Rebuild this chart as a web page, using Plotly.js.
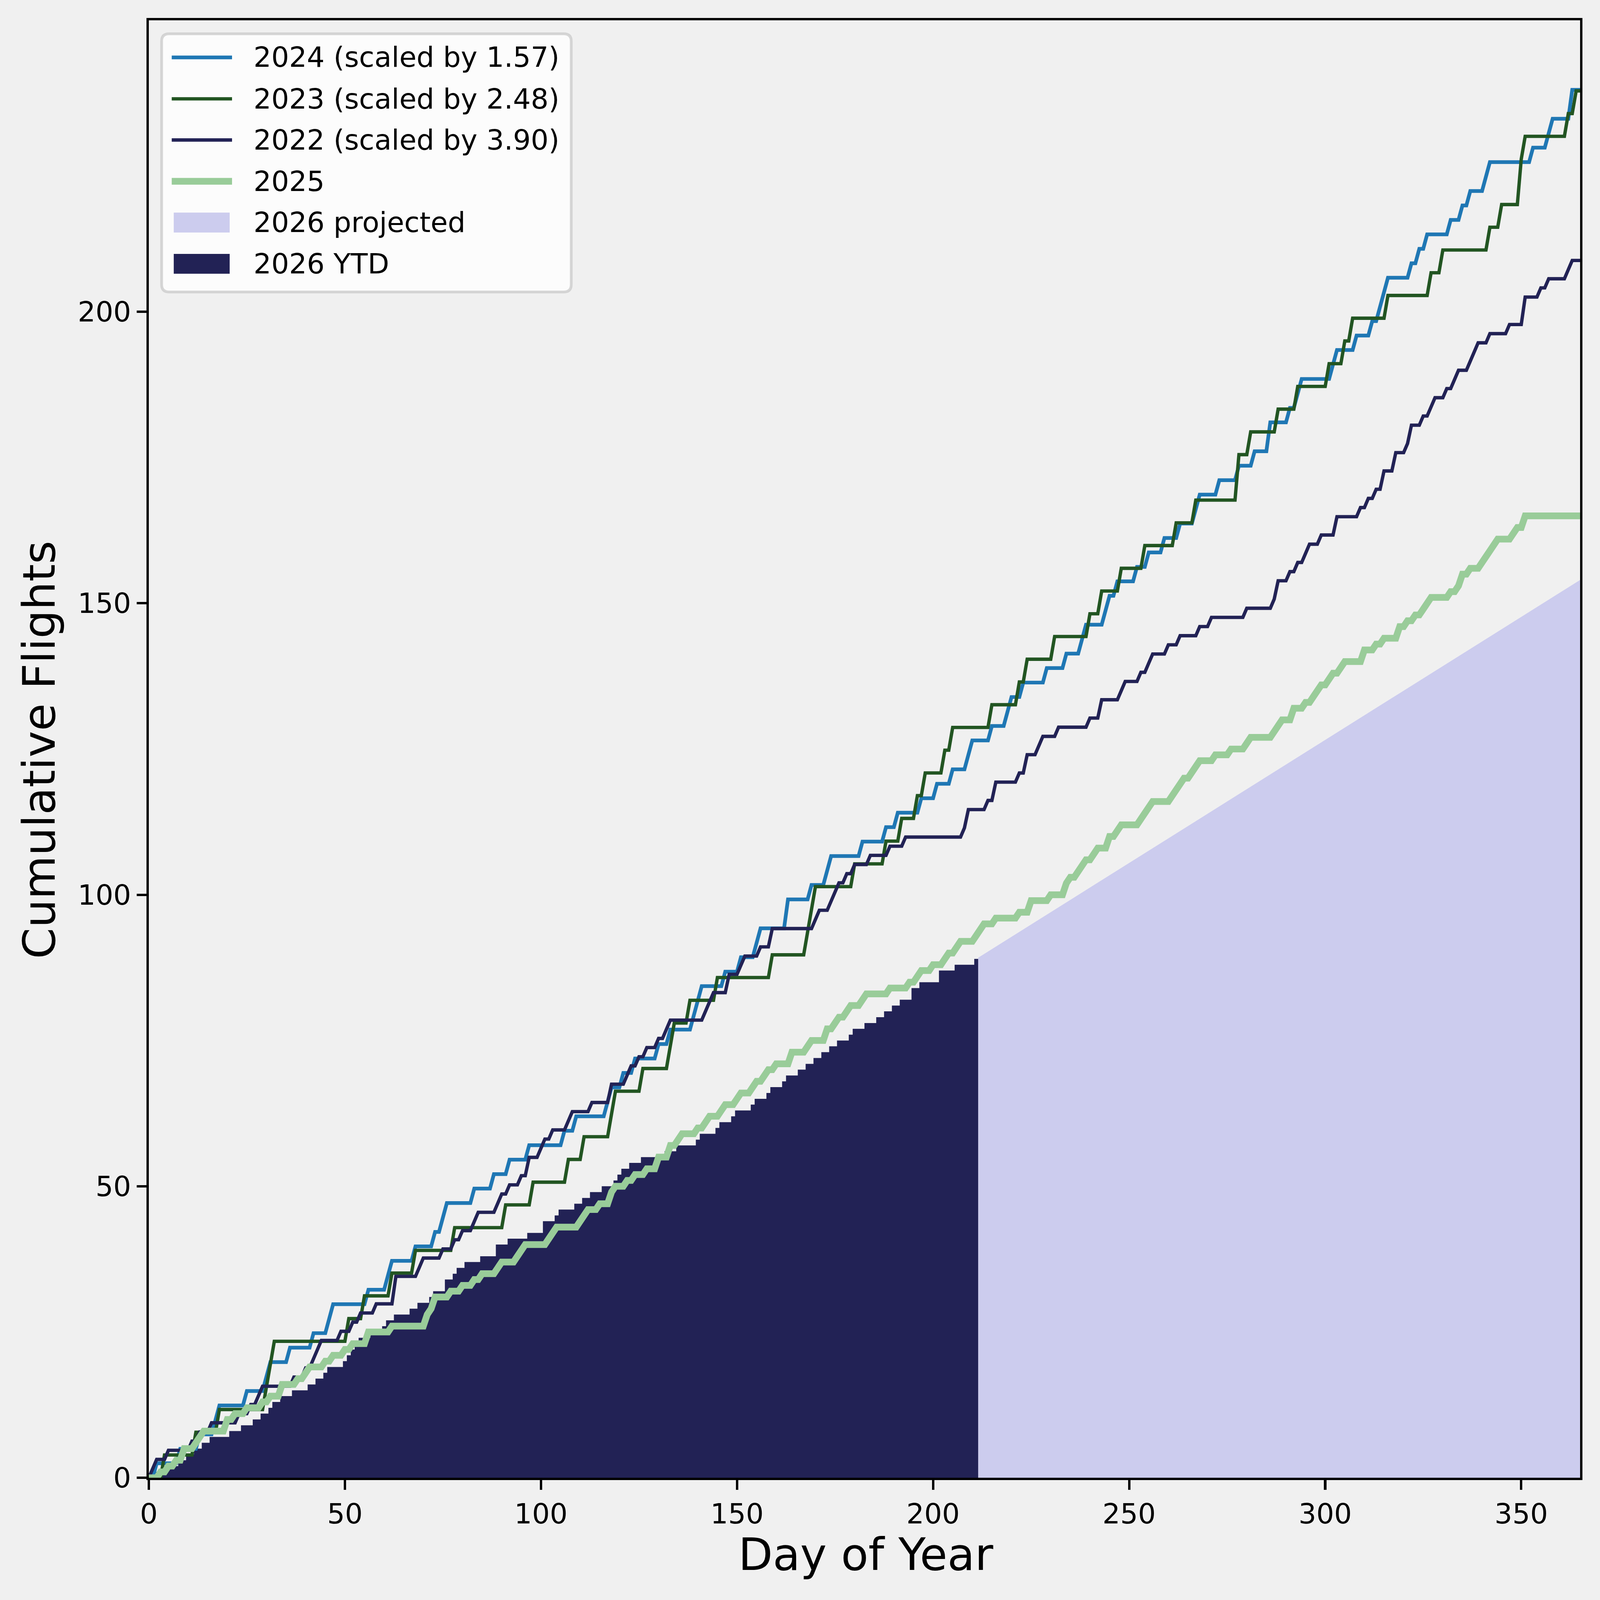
<!DOCTYPE html>
<html>
<head>
<meta charset="utf-8">
<script src="https://cdn.plot.ly/plotly-3.0.1.min.js"></script>
<style>
  html, body { margin: 0; padding: 0; background: #f0f0f0; overflow: hidden; }
</style>
</head>
<body>
<div id="chart"></div>
<script>
'use strict';

// A day is listed twice (or three times) when the line jumps by that many steps.
const days2024 = [2, 8, 13, 17, 18, 25, 30, 31, 36, 42, 46, 47, 56, 61, 62, 68, 73, 75, 76, 83,
    88, 92, 97, 106, 109, 117, 118, 121, 124, 130, 133, 139, 140, 141, 147, 151, 155, 156, 163, 163,
    169, 173, 174, 182, 188, 191, 197, 201, 205, 209, 210, 215, 219, 220, 223, 229, 234, 238, 239, 244,
    245, 247, 252, 255, 259, 263, 267, 268, 273, 278, 282, 286, 286, 291, 293, 294, 302, 303, 308, 312,
    314, 315, 316, 322, 324, 326, 332, 335, 337, 341, 342, 353, 357, 358, 363, 363];

const days2023 = [4, 12, 18, 30, 31, 32, 51, 55, 62, 68, 78, 91, 98, 107, 111, 118, 119, 126, 133, 134,
    138, 145, 159, 168, 169, 170, 180, 188, 192, 196, 198, 203, 205, 215, 222, 224, 231, 240, 243, 248,
    254, 262, 267, 278, 278, 281, 288, 293, 301, 305, 307, 316, 327, 330, 342, 345, 350, 350, 351, 362,
    364];

const days2022 = [1, 2, 5, 11, 13, 16, 23, 26, 28, 29, 37, 40, 42, 43, 44, 49, 52, 54, 58, 63,
    63, 63, 69, 70, 75, 78, 80, 83, 84, 89, 90, 92, 95, 97, 97, 100, 101, 103, 107, 108,
    113, 118, 118, 122, 123, 125, 127, 130, 132, 133, 142, 143, 144, 148, 148, 151, 152, 156, 159, 159,
    170, 171, 174, 175, 176, 178, 180, 184, 189, 193, 208, 209, 209, 214, 216, 216, 222, 224, 224, 227,
    228, 232, 240, 243, 243, 248, 249, 253, 255, 256, 260, 263, 268, 271, 280, 287, 288, 288, 291, 293,
    295, 296, 299, 303, 303, 309, 311, 313, 315, 315, 318, 318, 321, 322, 322, 325, 327, 328, 331, 333,
    334, 337, 338, 339, 342, 347, 351, 351, 351, 355, 357, 362, 363];

const days2025 = [3, 5, 7, 9, 9, 12, 13, 14, 20, 20, 22, 25, 29, 31, 34, 34, 38, 40, 41, 45,
    47, 50, 52, 56, 56, 62, 71, 71, 72, 73, 73, 77, 80, 83, 85, 89, 90, 94, 95, 96,
    102, 103, 104, 110, 111, 112, 115, 118, 118, 119, 122, 124, 127, 130, 130, 133, 133, 135, 136, 140,
    142, 143, 146, 147, 150, 151, 154, 155, 157, 158, 160, 164, 164, 168, 169, 173, 173, 175, 176, 178,
    179, 182, 183, 189, 194, 196, 197, 200, 203, 204, 206, 207, 211, 212, 213, 216, 222, 225, 225, 230,
    234, 234, 235, 237, 238, 239, 241, 242, 245, 245, 247, 248, 253, 254, 255, 256, 261, 262, 263, 264,
    266, 267, 268, 272, 276, 280, 281, 287, 288, 289, 292, 292, 295, 297, 298, 299, 301, 302, 304, 305,
    310, 310, 313, 315, 319, 319, 321, 323, 325, 326, 327, 332, 334, 335, 335, 337, 340, 341, 342, 343,
    344, 348, 349, 351, 351];

// 2026 year to date (bars, one per day)
const days2026 = [2, 5, 8, 10, 12, 14, 16, 21, 24, 27, 29, 31, 32, 34, 37, 41, 43, 45, 46, 50,
    51, 52, 53, 54, 57, 60, 61, 63, 67, 69, 72, 73, 76, 76, 78, 79, 81, 85, 89, 89,
    92, 97, 101, 101, 104, 105, 109, 111, 113, 116, 119, 120, 121, 123, 126, 132, 135, 140, 141, 145,
    146, 149, 150, 154, 155, 158, 159, 162, 163, 166, 168, 170, 172, 174, 176, 179, 180, 183, 186, 188,
    190, 192, 195, 195, 197, 202, 202, 206, 211];
const lastDay2026 = 211;

// height of one step as it is drawn for each line
const step2024 = 2.48;
const step2023 = 3.90;
const step2022 = 1.57;
const step2025 = 1;

// 2026 projection, start and end of its top edge
const projectedDays = [211.5, 365];
const projectedValues = [89.2, 154.0];

const dayTicks = [0, 50, 100, 150, 200, 250, 300, 350];
const flightTicks = [0, 50, 100, 150, 200];

const labels = ['2024 (scaled by 1.57)', '2023 (scaled by 2.48)', '2022 (scaled by 3.90)',
    '2025', '2026 projected', '2026 YTD'];

const colors = {
    c2024: '#1f77b4',
    c2023: '#225522',
    c2022: '#222255',
    c2025: '#99cc99',
    projected: '#ccccee',
    ytd: '#222255'
};

const FONT = 'DejaVu Sans';

// the reference is 4750 x 4747; everything below is laid out in those pixels
// and scaled to whatever window we really get
const W0 = 4750, H0 = 4747;
const W = window.innerWidth || W0;
const H = window.innerHeight || H0;
const sx = W / W0, sy = H / H0;
const s = Math.min(sx, sy);

function cumulative(days, step, lastDay) {
    const x = [];
    const y = [];
    for (let d = 0; d <= lastDay; d++) {
        let n = 0;
        for (const f of days) {
            if (f <= d) n++;
        }
        x.push(d);
        y.push(n * step);
    }
    return {x: x, y: y};
}

// bar outline of the year to date, as steps on the bar edges
function barSteps(days, lastDay) {
    const x = [];
    const y = [];
    for (let d = 1; d <= lastDay; d++) {
        let n = 0;
        for (const f of days) {
            if (f <= d) n++;
        }
        x.push(d - 0.5);
        y.push(n);
    }
    x.push(lastDay + 0.5);
    y.push(y[y.length - 1]);
    return {x: x, y: y};
}

const line2024 = cumulative(days2024, step2024, 365);
const line2023 = cumulative(days2023, step2023, 365);
const line2022 = cumulative(days2022, step2022, 365);
const line2025 = cumulative(days2025, step2025, 365);
const bars2026 = barSteps(days2026, lastDay2026);

const widths = {c2024: 11, c2023: 10, c2022: 10, c2025: 20};

const traces = [
    {
        x: projectedDays, y: projectedValues, type: 'scatter', mode: 'lines',
        fill: 'tozeroy', fillcolor: colors.projected, line: {width: 0, color: colors.projected}
    },
    {
        x: bars2026.x, y: bars2026.y, type: 'scatter', mode: 'lines',
        fill: 'tozeroy', fillcolor: colors.ytd, line: {width: 0, shape: 'hv', color: colors.ytd}
    },
    {x: line2024.x, y: line2024.y, type: 'scatter', mode: 'lines', line: {color: colors.c2024, width: widths.c2024 * s}},
    {x: line2023.x, y: line2023.y, type: 'scatter', mode: 'lines', line: {color: colors.c2023, width: widths.c2023 * s}},
    {x: line2022.x, y: line2022.y, type: 'scatter', mode: 'lines', line: {color: colors.c2022, width: widths.c2022 * s}},
    {x: line2025.x, y: line2025.y, type: 'scatter', mode: 'lines', line: {color: colors.c2025, width: widths.c2025 * s}}
];

// pixel position in the reference -> paper coordinates of the plot area
const M = {l: 442, r: 59, t: 60, b: 363};
const plotW = W0 - M.l - M.r;
const plotH = H0 - M.t - M.b;
function px(X) { return (X - M.l) / plotW; }
function py(Y) { return (H0 - M.b - Y) / plotH; }

// legend, drawn by hand so the handles get matplotlib's length
const box = {x1: 480, x2: 1696, y1: 100, y2: 866, r: 22};
const boxPath = [
    'M', px(box.x1 + box.r), py(box.y1),
    'L', px(box.x2 - box.r), py(box.y1),
    'Q', px(box.x2), py(box.y1), px(box.x2), py(box.y1 + box.r),
    'L', px(box.x2), py(box.y2 - box.r),
    'Q', px(box.x2), py(box.y2), px(box.x2 - box.r), py(box.y2),
    'L', px(box.x1 + box.r), py(box.y2),
    'Q', px(box.x1), py(box.y2), px(box.x1), py(box.y2 - box.r),
    'L', px(box.x1), py(box.y1 + box.r),
    'Q', px(box.x1), py(box.y1), px(box.x1 + box.r), py(box.y1),
    'Z'
].join(' ');

const rowY = [170, 293, 415, 537.5, 660, 782.5];
const shapes = [{
    type: 'path', xref: 'paper', yref: 'paper', path: boxPath,
    fillcolor: 'rgba(255,255,255,0.8)', line: {color: 'rgba(204,204,204,0.8)', width: 8 * s}
}];
[
    {color: colors.c2024, width: widths.c2024},
    {color: colors.c2023, width: widths.c2023},
    {color: colors.c2022, width: widths.c2022},
    {color: colors.c2025, width: widths.c2025}
].forEach((l, i) => {
    shapes.push({
        type: 'line', xref: 'paper', yref: 'paper',
        x0: px(510), x1: px(689), y0: py(rowY[i]), y1: py(rowY[i]),
        line: {color: l.color, width: l.width * s}
    });
});
[colors.projected, colors.ytd].forEach((c, i) => {
    const yc = rowY[4 + i];
    shapes.push({
        type: 'rect', xref: 'paper', yref: 'paper',
        x0: px(516), x1: px(682), y0: py(yc + 29.5), y1: py(yc - 29.5),
        fillcolor: c, line: {width: 0}
    });
});

const annotations = labels.map((t, i) => ({
    text: t, xref: 'paper', yref: 'paper', x: px(751), y: py(rowY[i]),
    xanchor: 'left', yanchor: 'middle', showarrow: false,
    font: {family: FONT, size: 83 * s, color: '#000000'}
}));
annotations.push({
    text: 'Day of Year', xref: 'paper', yref: 'paper', x: px(2571), y: py(4612),
    xanchor: 'center', yanchor: 'middle', showarrow: false,
    font: {family: FONT, size: 133 * s, color: '#000000'}
});
annotations.push({
    text: 'Cumulative Flights', xref: 'paper', yref: 'paper', x: px(116), y: py(2224),
    xanchor: 'center', yanchor: 'middle', showarrow: false, textangle: -90,
    font: {family: FONT, size: 133 * s, color: '#000000'}
});

const axisCommon = {
    showgrid: false, zeroline: false,
    showline: true, linecolor: '#000000', linewidth: 7 * s, mirror: true,
    ticks: 'outside', ticklen: 29 * s, tickwidth: 7 * s, tickcolor: '#000000',
    tickfont: {family: FONT, size: 83 * s, color: '#000000'},
    tickmode: 'array'
};

const layout = {
    width: W, height: H,
    margin: {l: M.l * sx, r: M.r * sx, t: M.t * sy, b: M.b * sy, pad: 0},
    paper_bgcolor: '#f0f0f0',
    plot_bgcolor: '#f0f0f0',
    showlegend: false,
    hovermode: false,
    font: {family: FONT, color: '#000000'},
    xaxis: Object.assign({}, axisCommon, {
        range: [0, 365], tickvals: dayTicks, ticktext: dayTicks.map(String),
        ticklabelstandoff: -36 * s
    }),
    yaxis: Object.assign({}, axisCommon, {
        range: [0, 250], tickvals: flightTicks, ticktext: flightTicks.map(String)
    }),
    shapes: shapes,
    annotations: annotations
};

Plotly.newPlot('chart', traces, layout, {staticPlot: true, displayModeBar: false});
</script>
</body>
</html>
